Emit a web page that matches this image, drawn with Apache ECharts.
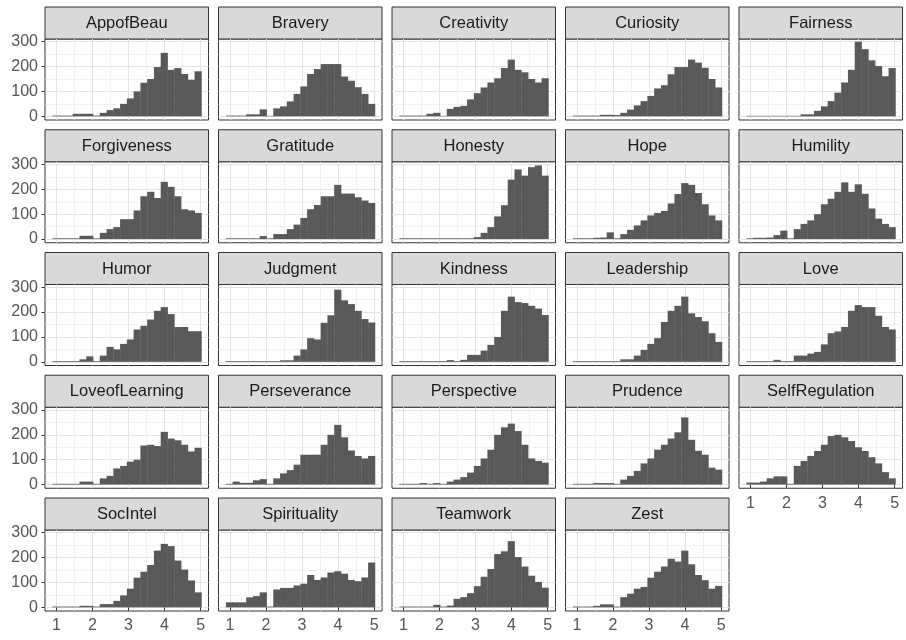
<!DOCTYPE html>
<html>
<head>
<meta charset="utf-8">
<script src="https://cdn.jsdelivr.net/npm/echarts@6/dist/echarts.min.js"></script>
<style>
  html, body { margin: 0; padding: 0; background: #fff; }
  #chart { width: 906px; height: 640px; }
</style>
</head>
<body>
<div id="chart"></div>
<script>
// facet names, in panel order
const strengths = ["AppofBeau", "Bravery", "Creativity", "Curiosity", "Fairness",
  "Forgiveness", "Gratitude", "Honesty", "Hope", "Humility",
  "Humor", "Judgment", "Kindness", "Leadership", "Love",
  "LoveofLearning", "Perseverance", "Perspective", "Prudence", "SelfRegulation",
  "SocIntel", "Spirituality", "Teamwork", "Zest"];

// histogram counts, 22 bins each
const appofBeau = [3, 3, 3, 10, 10, 10, 3, 14, 25, 32, 50, 72, 100, 135, 150, 198, 255, 187, 194, 170, 147, 181];
const bravery = [3, 3, 3, 8, 8, 28, 2, 32, 40, 60, 90, 120, 170, 190, 210, 210, 210, 160, 143, 117, 90, 50];
const creativity = [3, 3, 3, 3, 10, 14, 2, 30, 38, 42, 68, 93, 116, 136, 153, 194, 228, 187, 177, 150, 136, 153];
const curiosity = [3, 3, 3, 3, 6, 6, 5, 14, 27, 44, 61, 82, 112, 125, 169, 198, 198, 228, 216, 195, 150, 116];
const fairness = [2, 2, 2, 2, 2, 2, 2, 2, 8, 8, 22, 40, 61, 95, 136, 187, 300, 270, 225, 202, 161, 194];
const forgiveness = [3, 3, 3, 3, 13, 13, 3, 25, 40, 48, 80, 80, 115, 172, 190, 165, 230, 210, 172, 120, 115, 105];
const gratitude = [3, 3, 3, 3, 3, 12, 3, 20, 20, 40, 58, 85, 120, 137, 172, 172, 218, 183, 183, 168, 155, 145];
const honesty = [3, 3, 3, 3, 3, 3, 3, 3, 3, 3, 3, 8, 25, 48, 91, 136, 239, 280, 255, 289, 296, 255];
const hope = [3, 3, 3, 5, 6, 27, 3, 20, 37, 55, 75, 95, 105, 113, 143, 181, 225, 218, 185, 140, 95, 75];
const humility = [3, 5, 5, 6, 16, 34, 3, 40, 61, 75, 100, 140, 162, 190, 228, 190, 220, 182, 123, 82, 61, 48];
const humor = [3, 3, 3, 3, 10, 22, 3, 25, 60, 50, 72, 90, 130, 145, 170, 205, 220, 192, 140, 140, 123, 123];
const judgment = [3, 3, 3, 3, 3, 3, 3, 3, 6, 6, 25, 50, 95, 90, 157, 187, 290, 247, 232, 205, 172, 158];
const kindness = [3, 3, 3, 3, 3, 3, 3, 7, 3, 8, 28, 28, 45, 68, 100, 205, 262, 240, 236, 225, 214, 188];
const leadership = [3, 3, 3, 3, 3, 3, 3, 10, 10, 25, 48, 72, 95, 160, 205, 225, 262, 195, 180, 163, 115, 80];
const love = [3, 3, 3, 3, 8, 3, 3, 25, 25, 33, 40, 70, 115, 122, 140, 205, 228, 220, 220, 185, 140, 130];
const loveofLearning = [3, 3, 3, 3, 12, 12, 3, 25, 35, 65, 75, 92, 100, 157, 160, 155, 212, 185, 178, 160, 133, 148];
const perseverance = [3, 12, 7, 7, 17, 22, 3, 25, 45, 58, 80, 120, 120, 120, 160, 200, 240, 190, 137, 115, 105, 115];
const perspective = [3, 3, 3, 6, 3, 6, 3, 12, 20, 30, 48, 75, 105, 140, 200, 230, 245, 215, 160, 105, 95, 88];
const prudence = [3, 3, 3, 6, 6, 6, 3, 20, 35, 55, 85, 105, 140, 160, 185, 210, 270, 180, 136, 120, 68, 60];
const selfRegulation = [8, 8, 12, 25, 33, 33, 3, 75, 95, 115, 135, 160, 195, 200, 190, 175, 150, 135, 110, 85, 50, 25];
const socIntel = [3, 3, 3, 3, 6, 6, 3, 13, 13, 26, 48, 75, 119, 143, 170, 228, 255, 246, 188, 152, 108, 60];
const spirituality = [20, 20, 20, 40, 45, 60, 3, 72, 78, 78, 88, 95, 130, 110, 120, 140, 145, 135, 110, 105, 120, 180];
const teamwork = [3, 3, 3, 3, 3, 10, 3, 7, 34, 41, 57, 85, 123, 154, 214, 225, 266, 202, 164, 127, 102, 79];
const zest = [3, 3, 3, 6, 12, 12, 3, 41, 55, 75, 82, 119, 143, 164, 195, 184, 228, 173, 130, 109, 75, 86];

const counts = [appofBeau, bravery, creativity, curiosity, fairness,
  forgiveness, gratitude, honesty, hope, humility,
  humor, judgment, kindness, leadership, love,
  loveofLearning, perseverance, perspective, prudence, selfRegulation,
  socIntel, spirituality, teamwork, zest];

const xTicks = [1, 2, 3, 4, 5];
const yTicks = [0, 100, 200, 300];
const binStart = 0.885;
const binWidth = 0.188;

const chart = echarts.init(document.getElementById("chart"));

const grids = [], xAxes = [], yAxes = [], series = [], graphics = [];
const labelFont = { color: "#555", fontSize: 16, fontFamily: "Liberation Sans, Arial, sans-serif" };

strengths.forEach(function (name, i) {
  const row = Math.floor(i / 5), col = i % 5;
  const left = 45 + col * 173.5;
  const stripTop = 7 + row * 122.75;
  const top = stripTop + 32;
  const showX = i + 5 >= strengths.length;
  const showY = col === 0;

  grids.push({
    left: left, top: top, width: 163.5, height: 81,
    show: true, backgroundColor: "#fff", borderColor: "#333", borderWidth: 1
  });

  xAxes.push({
    gridIndex: i, type: "value", min: 0.68, max: 5.22, splitNumber: 4,
    axisLine: { show: false },
    axisTick: { show: showX, customValues: xTicks, length: 3.5, lineStyle: { color: "#333" } },
    axisLabel: Object.assign({ show: showX, customValues: xTicks, margin: 7 }, labelFont),
    splitLine: { lineStyle: { color: "#E4E4E4", width: 1 } },
    minorTick: { show: false, splitNumber: 2 },
    minorSplitLine: { show: true, lineStyle: { color: "#EDEDED", width: 0.7 } }
  });

  yAxes.push({
    gridIndex: i, type: "value", min: -14.8, max: 310.8, splitNumber: 3,
    axisLine: { show: false },
    axisTick: { show: showY, customValues: yTicks, length: 3.5, lineStyle: { color: "#333" } },
    axisLabel: Object.assign({ show: showY, customValues: yTicks, margin: 7 }, labelFont),
    splitLine: { lineStyle: { color: "#E4E4E4", width: 1 } },
    minorTick: { show: false, splitNumber: 2 },
    minorSplitLine: { show: true, lineStyle: { color: "#EDEDED", width: 0.7 } }
  });

  series.push({
    type: "custom",
    xAxisIndex: i, yAxisIndex: i,
    silent: true,
    encode: { x: [0, 1], y: 2 },
    data: counts[i].map(function (n, b) {
      return [binStart + b * binWidth, binStart + (b + 1) * binWidth, n];
    }),
    renderItem: function (params, api) {
      const p0 = api.coord([api.value(0), 0]);
      const p1 = api.coord([api.value(1), api.value(2)]);
      return {
        type: "rect",
        shape: { x: p0[0], y: p1[1], width: p1[0] - p0[0] + 0.4, height: p0[1] - p1[1] },
        style: { fill: "#595959" }
      };
    }
  });

  // facet strip
  graphics.push({
    type: "rect",
    shape: { x: left, y: stripTop, width: 163.5, height: 32 },
    style: { fill: "#D9D9D9", stroke: "#333", lineWidth: 1 }
  });
  graphics.push({
    type: "text",
    x: left + 163.5 / 2, y: stripTop + 16.5,
    style: {
      text: name, textAlign: "center", textVerticalAlign: "middle",
      fill: "#1A1A1A", font: "16.5px 'Liberation Sans', Arial, sans-serif"
    }
  });
});

chart.setOption({
  backgroundColor: "#fff",
  animation: false,
  grid: grids,
  xAxis: xAxes,
  yAxis: yAxes,
  series: series,
  graphic: graphics
});
</script>
</body>
</html>
